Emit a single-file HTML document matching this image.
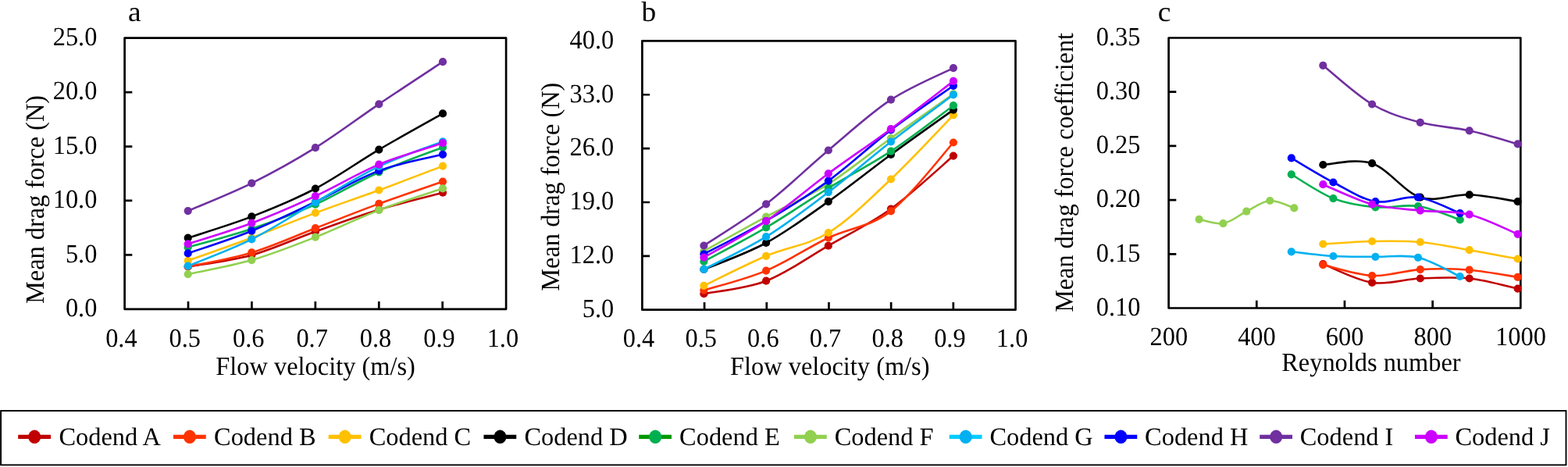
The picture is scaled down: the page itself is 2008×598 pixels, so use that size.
<!DOCTYPE html>
<html lang="en">
<head>
<meta charset="utf-8">
<title>Mean drag force and drag force coefficient of codends</title>
<style>
html,body{margin:0;padding:0;background:#fff;}
body{width:2008px;height:598px;overflow:hidden;}
svg{display:block;}
svg text{font-family:"Liberation Serif", "DejaVu Serif", serif;fill:#000;text-rendering:geometricPrecision;}
</style>
</head>
<body>
<svg width="2008" height="598" viewBox="0 0 2008 598" role="img" aria-label="Mean drag force versus flow velocity (a, b) and mean drag force coefficient versus Reynolds number (c) for codends A to J">
<rect x="0" y="0" width="2008" height="598" fill="#fff"/>
<g id="panel-a">
<clipPath id="clip-a"><rect x="139.60" y="28.70" width="509.95" height="387.10"/></clipPath>
<rect x="159.60" y="48.70" width="488.50" height="347.10" fill="#fff" stroke="#000" stroke-width="2.70" stroke-linejoin="round"/>
<path d="M241.02 395.80V386.10M322.43 395.80V386.10M403.85 395.80V386.10M485.27 395.80V386.10M566.68 395.80V386.10M159.60 118.12H169.30M159.60 187.54H169.30M159.60 256.96H169.30M159.60 326.38H169.30" stroke="#000" stroke-width="2.70" fill="none"/>
<g clip-path="url(#clip-a)">
<g fill="#C00000" stroke="none"><path d="M240.70 341.50 C254.30 339.03 295.10 334.20 322.30 326.70 C349.50 319.20 376.73 306.20 403.90 296.50 C431.07 286.80 458.12 276.80 485.30 268.50 C512.48 260.20 553.38 250.33 567.00 246.70" fill="none" stroke="#C00000" stroke-width="2.60" stroke-linecap="round" stroke-linejoin="round"/>
<circle cx="240.70" cy="341.50" r="5.10"/>
<circle cx="322.30" cy="326.70" r="5.10"/>
<circle cx="403.90" cy="296.50" r="5.10"/>
<circle cx="485.30" cy="268.50" r="5.10"/>
<circle cx="567.00" cy="246.70" r="5.10"/>
</g>
<g fill="#FF3300" stroke="none"><path d="M240.70 341.50 C254.30 338.48 295.10 331.62 322.30 323.40 C349.50 315.18 376.73 302.62 403.90 292.20 C431.07 281.78 458.12 270.83 485.30 260.90 C512.48 250.97 553.38 237.32 567.00 232.60" fill="none" stroke="#FF3300" stroke-width="2.60" stroke-linecap="round" stroke-linejoin="round"/>
<circle cx="240.70" cy="341.50" r="5.10"/>
<circle cx="322.30" cy="323.40" r="5.10"/>
<circle cx="403.90" cy="292.20" r="5.10"/>
<circle cx="485.30" cy="260.90" r="5.10"/>
<circle cx="567.00" cy="232.60" r="5.10"/>
</g>
<g fill="#FFC000" stroke="none"><path d="M240.70 333.80 C254.30 328.92 295.10 314.70 322.30 304.50 C349.50 294.30 376.73 282.77 403.90 272.60 C431.07 262.43 458.12 253.50 485.30 243.50 C512.48 233.50 553.38 217.75 567.00 212.60" fill="none" stroke="#FFC000" stroke-width="2.60" stroke-linecap="round" stroke-linejoin="round"/>
<circle cx="240.70" cy="333.80" r="5.10"/>
<circle cx="322.30" cy="304.50" r="5.10"/>
<circle cx="403.90" cy="272.60" r="5.10"/>
<circle cx="485.30" cy="243.50" r="5.10"/>
<circle cx="567.00" cy="212.60" r="5.10"/>
</g>
<g fill="#000000" stroke="none"><path d="M240.70 304.70 C254.30 300.15 295.10 287.93 322.30 277.40 C349.50 266.87 376.73 255.80 403.90 241.50 C431.07 227.20 458.12 207.62 485.30 191.60 C512.48 175.58 553.38 153.10 567.00 145.40" fill="none" stroke="#000000" stroke-width="2.60" stroke-linecap="round" stroke-linejoin="round"/>
<circle cx="240.70" cy="304.70" r="5.10"/>
<circle cx="322.30" cy="277.40" r="5.10"/>
<circle cx="403.90" cy="241.50" r="5.10"/>
<circle cx="485.30" cy="191.60" r="5.10"/>
<circle cx="567.00" cy="145.40" r="5.10"/>
</g>
<g fill="#92D050" stroke="none"><path d="M240.70 351.10 C254.30 348.10 295.10 341.00 322.30 333.10 C349.50 325.20 376.73 314.37 403.90 303.70 C431.07 293.03 458.12 279.50 485.30 269.10 C512.48 258.70 553.38 245.93 567.00 241.30" fill="none" stroke="#92D050" stroke-width="2.60" stroke-linecap="round" stroke-linejoin="round"/>
<circle cx="240.70" cy="351.10" r="5.10"/>
<circle cx="322.30" cy="333.10" r="5.10"/>
<circle cx="403.90" cy="303.70" r="5.10"/>
<circle cx="485.30" cy="269.10" r="5.10"/>
<circle cx="567.00" cy="241.30" r="5.10"/>
</g>
<g fill="#00B050" stroke="none"><path d="M240.70 316.70 C254.30 312.75 295.10 302.17 322.30 293.00 C349.50 283.83 376.73 273.78 403.90 261.70 C431.07 249.62 458.12 232.67 485.30 220.50 C512.48 208.33 553.38 194.00 567.00 188.70" fill="none" stroke="#00B050" stroke-width="2.60" stroke-linecap="round" stroke-linejoin="round"/>
<circle cx="240.70" cy="316.70" r="5.10"/>
<circle cx="322.30" cy="293.00" r="5.10"/>
<circle cx="403.90" cy="261.70" r="5.10"/>
<circle cx="485.30" cy="220.50" r="5.10"/>
<circle cx="567.00" cy="188.70" r="5.10"/>
</g>
<g fill="#0000FF" stroke="none"><path d="M240.70 324.40 C254.30 319.62 295.10 306.68 322.30 295.70 C349.50 284.72 376.73 271.35 403.90 258.50 C431.07 245.65 458.12 228.72 485.30 218.60 C512.48 208.48 553.38 201.27 567.00 197.80" fill="none" stroke="#0000FF" stroke-width="2.60" stroke-linecap="round" stroke-linejoin="round"/>
<circle cx="240.70" cy="324.40" r="5.10"/>
<circle cx="322.30" cy="295.70" r="5.10"/>
<circle cx="403.90" cy="258.50" r="5.10"/>
<circle cx="485.30" cy="218.60" r="5.10"/>
<circle cx="567.00" cy="197.80" r="5.10"/>
</g>
<g fill="#00B0F0" stroke="none"><path d="M240.70 340.60 C254.30 334.90 295.10 319.98 322.30 306.40 C349.50 292.82 376.73 274.63 403.90 259.10 C431.07 243.57 458.12 226.17 485.30 213.20 C512.48 200.23 553.38 186.62 567.00 181.30" fill="none" stroke="#00B0F0" stroke-width="2.60" stroke-linecap="round" stroke-linejoin="round"/>
<circle cx="240.70" cy="340.60" r="5.10"/>
<circle cx="322.30" cy="306.40" r="5.10"/>
<circle cx="403.90" cy="259.10" r="5.10"/>
<circle cx="485.30" cy="213.20" r="5.10"/>
<circle cx="567.00" cy="181.30" r="5.10"/>
</g>
<g fill="#7030A0" stroke="none"><path d="M240.70 270.10 C254.30 264.18 295.10 248.08 322.30 234.60 C349.50 221.12 376.73 206.08 403.90 189.20 C431.07 172.32 458.12 151.63 485.30 133.30 C512.48 114.97 553.38 88.22 567.00 79.20" fill="none" stroke="#7030A0" stroke-width="2.60" stroke-linecap="round" stroke-linejoin="round"/>
<circle cx="240.70" cy="270.10" r="5.10"/>
<circle cx="322.30" cy="234.60" r="5.10"/>
<circle cx="403.90" cy="189.20" r="5.10"/>
<circle cx="485.30" cy="133.30" r="5.10"/>
<circle cx="567.00" cy="79.20" r="5.10"/>
</g>
<g fill="#CC00FF" stroke="none"><path d="M240.70 312.40 C254.30 307.95 295.10 295.92 322.30 285.70 C349.50 275.48 376.73 263.62 403.90 251.10 C431.07 238.58 458.12 221.92 485.30 210.60 C512.48 199.28 553.38 187.77 567.00 183.20" fill="none" stroke="#CC00FF" stroke-width="2.60" stroke-linecap="round" stroke-linejoin="round"/>
<circle cx="240.70" cy="312.40" r="5.10"/>
<circle cx="322.30" cy="285.70" r="5.10"/>
<circle cx="403.90" cy="251.10" r="5.10"/>
<circle cx="485.30" cy="210.60" r="5.10"/>
<circle cx="567.00" cy="183.20" r="5.10"/>
</g>
</g>
<text transform="translate(155.40 443.80) scale(1 1.0400)" font-size="32.40" text-anchor="middle">0.4</text>
<text transform="translate(236.82 443.80) scale(1 1.0400)" font-size="32.40" text-anchor="middle">0.5</text>
<text transform="translate(318.23 443.80) scale(1 1.0400)" font-size="32.40" text-anchor="middle">0.6</text>
<text transform="translate(399.65 443.80) scale(1 1.0400)" font-size="32.40" text-anchor="middle">0.7</text>
<text transform="translate(481.07 443.80) scale(1 1.0400)" font-size="32.40" text-anchor="middle">0.8</text>
<text transform="translate(562.48 443.80) scale(1 1.0400)" font-size="32.40" text-anchor="middle">0.9</text>
<text transform="translate(643.90 443.80) scale(1 1.0400)" font-size="32.40" text-anchor="middle">1.0</text>
<text transform="translate(124.40 58.00) scale(1 1.0400)" font-size="32.40" text-anchor="end">25.0</text>
<text transform="translate(124.40 127.42) scale(1 1.0400)" font-size="32.40" text-anchor="end">20.0</text>
<text transform="translate(124.40 196.84) scale(1 1.0400)" font-size="32.40" text-anchor="end">15.0</text>
<text transform="translate(124.40 266.26) scale(1 1.0400)" font-size="32.40" text-anchor="end">10.0</text>
<text transform="translate(124.40 335.68) scale(1 1.0400)" font-size="32.40" text-anchor="end">5.0</text>
<text transform="translate(124.40 405.10) scale(1 1.0400)" font-size="32.40" text-anchor="end">0.0</text>
<text transform="translate(164.00 26.60) scale(1 0.9600)" font-size="37.50" text-anchor="start">a</text>
<text transform="translate(276.30 480.30) scale(1 1.0400)" font-size="32.40" text-anchor="start">Flow velocity (m/s)</text>
<text transform="translate(56.40 389.00) rotate(-90) scale(1 1.0400)" font-size="32.40" text-anchor="start">Mean drag force (N)</text>
</g>
<g id="panel-b">
<clipPath id="clip-b"><rect x="802.40" y="32.40" width="499.55" height="384.30"/></clipPath>
<rect x="822.40" y="52.40" width="478.10" height="344.30" fill="#fff" stroke="#000" stroke-width="2.70" stroke-linejoin="round"/>
<path d="M902.08 396.70V387.00M981.77 396.70V387.00M1061.45 396.70V387.00M1141.13 396.70V387.00M1220.82 396.70V387.00M822.40 121.26H832.10M822.40 190.12H832.10M822.40 258.98H832.10M822.40 327.84H832.10" stroke="#000" stroke-width="2.70" fill="none"/>
<g clip-path="url(#clip-b)">
<g fill="#C00000" stroke="none"><path d="M901.40 376.20 C914.68 373.45 954.53 369.95 981.10 359.70 C1007.67 349.45 1034.17 330.07 1060.80 314.70 C1087.43 299.33 1114.22 286.68 1140.90 267.50 C1167.58 248.32 1207.57 210.92 1220.90 199.60" fill="none" stroke="#C00000" stroke-width="2.60" stroke-linecap="round" stroke-linejoin="round"/>
<circle cx="901.40" cy="376.20" r="5.10"/>
<circle cx="981.10" cy="359.70" r="5.10"/>
<circle cx="1060.80" cy="314.70" r="5.10"/>
<circle cx="1140.90" cy="267.50" r="5.10"/>
<circle cx="1220.90" cy="199.60" r="5.10"/>
</g>
<g fill="#FF3300" stroke="none"><path d="M901.40 371.70 C914.68 367.52 954.53 357.80 981.10 346.60 C1007.67 335.40 1034.17 317.20 1060.80 304.50 C1087.43 291.80 1114.22 290.73 1140.90 270.40 C1167.58 250.07 1207.57 197.15 1220.90 182.50" fill="none" stroke="#FF3300" stroke-width="2.60" stroke-linecap="round" stroke-linejoin="round"/>
<circle cx="901.40" cy="371.70" r="5.10"/>
<circle cx="981.10" cy="346.60" r="5.10"/>
<circle cx="1060.80" cy="304.50" r="5.10"/>
<circle cx="1140.90" cy="270.40" r="5.10"/>
<circle cx="1220.90" cy="182.50" r="5.10"/>
</g>
<g fill="#FFC000" stroke="none"><path d="M901.40 365.90 C914.68 359.55 954.53 339.12 981.10 327.80 C1007.67 316.48 1034.17 314.38 1060.80 298.00 C1087.43 281.62 1114.22 254.62 1140.90 229.50 C1167.58 204.38 1207.57 161.00 1220.90 147.30" fill="none" stroke="#FFC000" stroke-width="2.60" stroke-linecap="round" stroke-linejoin="round"/>
<circle cx="901.40" cy="365.90" r="5.10"/>
<circle cx="981.10" cy="327.80" r="5.10"/>
<circle cx="1060.80" cy="298.00" r="5.10"/>
<circle cx="1140.90" cy="229.50" r="5.10"/>
<circle cx="1220.90" cy="147.30" r="5.10"/>
</g>
<g fill="#000000" stroke="none"><path d="M901.40 345.00 C914.68 339.33 954.53 325.48 981.10 311.00 C1007.67 296.52 1034.17 276.93 1060.80 258.10 C1087.43 239.27 1114.22 217.58 1140.90 198.00 C1167.58 178.42 1207.57 150.17 1220.90 140.60" fill="none" stroke="#000000" stroke-width="2.60" stroke-linecap="round" stroke-linejoin="round"/>
<circle cx="901.40" cy="345.00" r="5.10"/>
<circle cx="981.10" cy="311.00" r="5.10"/>
<circle cx="1060.80" cy="258.10" r="5.10"/>
<circle cx="1140.90" cy="198.00" r="5.10"/>
<circle cx="1220.90" cy="140.60" r="5.10"/>
</g>
<g fill="#92D050" stroke="none"><path d="M901.40 321.50 C914.68 314.18 954.53 291.92 981.10 277.60 C1007.67 263.28 1034.17 252.37 1060.80 235.60 C1087.43 218.83 1114.22 196.20 1140.90 177.00 C1167.58 157.80 1207.57 129.83 1220.90 120.40" fill="none" stroke="#92D050" stroke-width="2.60" stroke-linecap="round" stroke-linejoin="round"/>
<circle cx="901.40" cy="321.50" r="5.10"/>
<circle cx="981.10" cy="277.60" r="5.10"/>
<circle cx="1060.80" cy="235.60" r="5.10"/>
<circle cx="1140.90" cy="177.00" r="5.10"/>
<circle cx="1220.90" cy="120.40" r="5.10"/>
</g>
<g fill="#00B050" stroke="none"><path d="M901.40 334.80 C914.68 327.57 954.53 307.03 981.10 291.40 C1007.67 275.77 1034.17 257.28 1060.80 241.00 C1087.43 224.72 1114.22 211.33 1140.90 193.70 C1167.58 176.07 1207.57 144.95 1220.90 135.20" fill="none" stroke="#00B050" stroke-width="2.60" stroke-linecap="round" stroke-linejoin="round"/>
<circle cx="901.40" cy="334.80" r="5.10"/>
<circle cx="981.10" cy="291.40" r="5.10"/>
<circle cx="1060.80" cy="241.00" r="5.10"/>
<circle cx="1140.90" cy="193.70" r="5.10"/>
<circle cx="1220.90" cy="135.20" r="5.10"/>
</g>
<g fill="#0000FF" stroke="none"><path d="M901.40 325.30 C914.68 318.25 954.53 298.62 981.10 283.00 C1007.67 267.38 1034.17 251.03 1060.80 231.60 C1087.43 212.17 1114.22 186.70 1140.90 166.40 C1167.58 146.10 1207.57 119.23 1220.90 109.80" fill="none" stroke="#0000FF" stroke-width="2.60" stroke-linecap="round" stroke-linejoin="round"/>
<circle cx="901.40" cy="325.30" r="5.10"/>
<circle cx="981.10" cy="283.00" r="5.10"/>
<circle cx="1060.80" cy="231.60" r="5.10"/>
<circle cx="1140.90" cy="166.40" r="5.10"/>
<circle cx="1220.90" cy="109.80" r="5.10"/>
</g>
<g fill="#00B0F0" stroke="none"><path d="M901.40 344.90 C914.68 337.95 954.53 319.65 981.10 303.20 C1007.67 286.75 1034.17 266.48 1060.80 246.20 C1087.43 225.92 1114.22 202.32 1140.90 181.50 C1167.58 160.68 1207.57 131.33 1220.90 121.30" fill="none" stroke="#00B0F0" stroke-width="2.60" stroke-linecap="round" stroke-linejoin="round"/>
<circle cx="901.40" cy="344.90" r="5.10"/>
<circle cx="981.10" cy="303.20" r="5.10"/>
<circle cx="1060.80" cy="246.20" r="5.10"/>
<circle cx="1140.90" cy="181.50" r="5.10"/>
<circle cx="1220.90" cy="121.30" r="5.10"/>
</g>
<g fill="#7030A0" stroke="none"><path d="M901.40 314.50 C914.68 305.63 954.53 281.63 981.10 261.30 C1007.67 240.97 1034.17 214.77 1060.80 192.50 C1087.43 170.23 1114.22 145.27 1140.90 127.70 C1167.58 110.13 1207.57 93.87 1220.90 87.10" fill="none" stroke="#7030A0" stroke-width="2.60" stroke-linecap="round" stroke-linejoin="round"/>
<circle cx="901.40" cy="314.50" r="5.10"/>
<circle cx="981.10" cy="261.30" r="5.10"/>
<circle cx="1060.80" cy="192.50" r="5.10"/>
<circle cx="1140.90" cy="127.70" r="5.10"/>
<circle cx="1220.90" cy="87.10" r="5.10"/>
</g>
<g fill="#CC00FF" stroke="none"><path d="M901.40 329.60 C914.68 321.87 954.53 301.08 981.10 283.20 C1007.67 265.32 1034.17 241.97 1060.80 222.30 C1087.43 202.63 1114.22 184.93 1140.90 165.20 C1167.58 145.47 1207.57 114.12 1220.90 103.90" fill="none" stroke="#CC00FF" stroke-width="2.60" stroke-linecap="round" stroke-linejoin="round"/>
<circle cx="901.40" cy="329.60" r="5.10"/>
<circle cx="981.10" cy="283.20" r="5.10"/>
<circle cx="1060.80" cy="222.30" r="5.10"/>
<circle cx="1140.90" cy="165.20" r="5.10"/>
<circle cx="1220.90" cy="103.90" r="5.10"/>
</g>
</g>
<text transform="translate(818.00 444.10) scale(1 1.0400)" font-size="32.40" text-anchor="middle">0.4</text>
<text transform="translate(897.68 444.10) scale(1 1.0400)" font-size="32.40" text-anchor="middle">0.5</text>
<text transform="translate(977.37 444.10) scale(1 1.0400)" font-size="32.40" text-anchor="middle">0.6</text>
<text transform="translate(1057.05 444.10) scale(1 1.0400)" font-size="32.40" text-anchor="middle">0.7</text>
<text transform="translate(1136.73 444.10) scale(1 1.0400)" font-size="32.40" text-anchor="middle">0.8</text>
<text transform="translate(1216.42 444.10) scale(1 1.0400)" font-size="32.40" text-anchor="middle">0.9</text>
<text transform="translate(1296.10 444.10) scale(1 1.0400)" font-size="32.40" text-anchor="middle">1.0</text>
<text transform="translate(786.30 61.70) scale(1 1.0400)" font-size="32.40" text-anchor="end">40.0</text>
<text transform="translate(786.30 130.56) scale(1 1.0400)" font-size="32.40" text-anchor="end">33.0</text>
<text transform="translate(786.30 199.42) scale(1 1.0400)" font-size="32.40" text-anchor="end">26.0</text>
<text transform="translate(786.30 268.28) scale(1 1.0400)" font-size="32.40" text-anchor="end">19.0</text>
<text transform="translate(786.30 337.14) scale(1 1.0400)" font-size="32.40" text-anchor="end">12.0</text>
<text transform="translate(786.30 406.00) scale(1 1.0400)" font-size="32.40" text-anchor="end">5.0</text>
<text transform="translate(821.50 26.60) scale(1 0.9600)" font-size="37.50" text-anchor="start">b</text>
<text transform="translate(935.00 479.70) scale(1 1.0400)" font-size="32.40" text-anchor="start">Flow velocity (m/s)</text>
<text transform="translate(716.00 372.70) rotate(-90) scale(1 1.0400)" font-size="32.40" text-anchor="start">Mean drag force (N)</text>
</g>
<g id="panel-c">
<clipPath id="clip-c"><rect x="1476.60" y="28.50" width="472.15" height="386.00"/></clipPath>
<rect x="1496.60" y="48.50" width="450.70" height="346.00" fill="#fff" stroke="#000" stroke-width="2.70" stroke-linejoin="round"/>
<path d="M1609.27 394.50V384.80M1721.95 394.50V384.80M1834.62 394.50V384.80M1496.60 117.70H1506.30M1496.60 186.90H1506.30M1496.60 256.10H1506.30M1496.60 325.30H1506.30" stroke="#000" stroke-width="2.70" fill="none"/>
<g clip-path="url(#clip-c)">
<g fill="#C00000" stroke="none"><path d="M1694.30 338.10 C1704.77 342.07 1736.35 358.83 1757.10 361.90 C1777.85 364.97 1798.03 357.40 1818.80 356.50 C1839.57 355.60 1860.90 354.32 1881.70 356.50 C1902.50 358.68 1933.28 367.42 1943.60 369.60" fill="none" stroke="#C00000" stroke-width="2.60" stroke-linecap="round" stroke-linejoin="round"/>
<circle cx="1694.30" cy="338.10" r="5.10"/>
<circle cx="1757.10" cy="361.90" r="5.10"/>
<circle cx="1818.80" cy="356.50" r="5.10"/>
<circle cx="1881.70" cy="356.50" r="5.10"/>
<circle cx="1943.60" cy="369.60" r="5.10"/>
</g>
<g fill="#FF3300" stroke="none"><path d="M1694.30 339.10 C1704.77 341.42 1736.35 352.00 1757.10 353.00 C1777.85 354.00 1798.03 346.32 1818.80 345.10 C1839.57 343.88 1860.90 344.07 1881.70 345.70 C1902.50 347.33 1933.28 353.37 1943.60 354.90" fill="none" stroke="#FF3300" stroke-width="2.60" stroke-linecap="round" stroke-linejoin="round"/>
<circle cx="1694.30" cy="339.10" r="5.10"/>
<circle cx="1757.10" cy="353.00" r="5.10"/>
<circle cx="1818.80" cy="345.10" r="5.10"/>
<circle cx="1881.70" cy="345.70" r="5.10"/>
<circle cx="1943.60" cy="354.90" r="5.10"/>
</g>
<g fill="#FFC000" stroke="none"><path d="M1694.30 312.50 C1704.77 311.92 1736.35 309.42 1757.10 309.00 C1777.85 308.58 1798.03 308.13 1818.80 310.00 C1839.57 311.87 1860.90 316.62 1881.70 320.20 C1902.50 323.78 1933.28 329.62 1943.60 331.50" fill="none" stroke="#FFC000" stroke-width="2.60" stroke-linecap="round" stroke-linejoin="round"/>
<circle cx="1694.30" cy="312.50" r="5.10"/>
<circle cx="1757.10" cy="309.00" r="5.10"/>
<circle cx="1818.80" cy="310.00" r="5.10"/>
<circle cx="1881.70" cy="320.20" r="5.10"/>
<circle cx="1943.60" cy="331.50" r="5.10"/>
</g>
<g fill="#000000" stroke="none"><path d="M1694.30 211.00 C1704.77 210.70 1736.35 202.25 1757.10 209.20 C1777.85 216.15 1798.03 246.02 1818.80 252.70 C1839.57 259.38 1860.90 248.40 1881.70 249.30 C1902.50 250.20 1933.28 256.63 1943.60 258.10" fill="none" stroke="#000000" stroke-width="2.60" stroke-linecap="round" stroke-linejoin="round"/>
<circle cx="1694.30" cy="211.00" r="5.10"/>
<circle cx="1757.10" cy="209.20" r="5.10"/>
<circle cx="1818.80" cy="252.70" r="5.10"/>
<circle cx="1881.70" cy="249.30" r="5.10"/>
<circle cx="1943.60" cy="258.10" r="5.10"/>
</g>
<g fill="#92D050" stroke="none"><path d="M1535.60 280.80 C1540.73 281.70 1556.28 287.88 1566.40 286.20 C1576.52 284.52 1586.32 275.57 1596.30 270.70 C1606.28 265.83 1616.13 257.72 1626.30 257.00 C1636.47 256.28 1652.13 264.83 1657.30 266.40" fill="none" stroke="#92D050" stroke-width="2.60" stroke-linecap="round" stroke-linejoin="round"/>
<circle cx="1535.60" cy="280.80" r="5.10"/>
<circle cx="1566.40" cy="286.20" r="5.10"/>
<circle cx="1596.30" cy="270.70" r="5.10"/>
<circle cx="1626.30" cy="257.00" r="5.10"/>
<circle cx="1657.30" cy="266.40" r="5.10"/>
</g>
<g fill="#00B050" stroke="none"><path d="M1653.80 223.30 C1662.73 228.43 1689.47 247.10 1707.40 254.10 C1725.33 261.10 1743.30 263.65 1761.40 265.30 C1779.50 266.95 1797.95 261.32 1816.00 264.00 C1834.05 266.68 1860.75 278.50 1869.70 281.40" fill="none" stroke="#00B050" stroke-width="2.60" stroke-linecap="round" stroke-linejoin="round"/>
<circle cx="1653.80" cy="223.30" r="5.10"/>
<circle cx="1707.40" cy="254.10" r="5.10"/>
<circle cx="1761.40" cy="265.30" r="5.10"/>
<circle cx="1816.00" cy="264.00" r="5.10"/>
<circle cx="1869.70" cy="281.40" r="5.10"/>
</g>
<g fill="#0000FF" stroke="none"><path d="M1653.80 202.40 C1662.73 207.58 1689.47 224.22 1707.40 233.50 C1725.33 242.78 1743.30 254.90 1761.40 258.10 C1779.50 261.30 1797.95 250.20 1816.00 252.70 C1834.05 255.20 1860.75 269.70 1869.70 273.10" fill="none" stroke="#0000FF" stroke-width="2.60" stroke-linecap="round" stroke-linejoin="round"/>
<circle cx="1653.80" cy="202.40" r="5.10"/>
<circle cx="1707.40" cy="233.50" r="5.10"/>
<circle cx="1761.40" cy="258.10" r="5.10"/>
<circle cx="1816.00" cy="252.70" r="5.10"/>
<circle cx="1869.70" cy="273.10" r="5.10"/>
</g>
<g fill="#00B0F0" stroke="none"><path d="M1653.80 322.30 C1662.73 323.25 1689.47 326.92 1707.40 328.00 C1725.33 329.08 1743.30 328.50 1761.40 328.80 C1779.50 329.10 1797.95 325.60 1816.00 329.80 C1834.05 334.00 1860.75 349.97 1869.70 354.00" fill="none" stroke="#00B0F0" stroke-width="2.60" stroke-linecap="round" stroke-linejoin="round"/>
<circle cx="1653.80" cy="322.30" r="5.10"/>
<circle cx="1707.40" cy="328.00" r="5.10"/>
<circle cx="1761.40" cy="328.80" r="5.10"/>
<circle cx="1816.00" cy="329.80" r="5.10"/>
<circle cx="1869.70" cy="354.00" r="5.10"/>
</g>
<g fill="#7030A0" stroke="none"><path d="M1694.30 83.80 C1704.77 92.08 1736.35 121.33 1757.10 133.50 C1777.85 145.67 1798.03 151.17 1818.80 156.80 C1839.57 162.43 1860.90 162.70 1881.70 167.30 C1902.50 171.90 1933.28 181.55 1943.60 184.40" fill="none" stroke="#7030A0" stroke-width="2.60" stroke-linecap="round" stroke-linejoin="round"/>
<circle cx="1694.30" cy="83.80" r="5.10"/>
<circle cx="1757.10" cy="133.50" r="5.10"/>
<circle cx="1818.80" cy="156.80" r="5.10"/>
<circle cx="1881.70" cy="167.30" r="5.10"/>
<circle cx="1943.60" cy="184.40" r="5.10"/>
</g>
<g fill="#CC00FF" stroke="none"><path d="M1694.30 236.20 C1704.77 240.43 1736.35 256.03 1757.10 261.60 C1777.85 267.17 1798.03 267.42 1818.80 269.60 C1839.57 271.78 1860.90 269.67 1881.70 274.70 C1902.50 279.73 1933.28 295.62 1943.60 299.80" fill="none" stroke="#CC00FF" stroke-width="2.60" stroke-linecap="round" stroke-linejoin="round"/>
<circle cx="1694.30" cy="236.20" r="5.10"/>
<circle cx="1757.10" cy="261.60" r="5.10"/>
<circle cx="1818.80" cy="269.60" r="5.10"/>
<circle cx="1881.70" cy="274.70" r="5.10"/>
<circle cx="1943.60" cy="299.80" r="5.10"/>
</g>
</g>
<text transform="translate(1496.80 442.00) scale(1 1.0400)" font-size="32.40" text-anchor="middle">200</text>
<text transform="translate(1609.47 442.00) scale(1 1.0400)" font-size="32.40" text-anchor="middle">400</text>
<text transform="translate(1722.15 442.00) scale(1 1.0400)" font-size="32.40" text-anchor="middle">600</text>
<text transform="translate(1834.83 442.00) scale(1 1.0400)" font-size="32.40" text-anchor="middle">800</text>
<text transform="translate(1947.50 442.00) scale(1 1.0400)" font-size="32.40" text-anchor="middle">1000</text>
<text transform="translate(1460.50 57.80) scale(1 1.0400)" font-size="32.40" text-anchor="end">0.35</text>
<text transform="translate(1460.50 127.00) scale(1 1.0400)" font-size="32.40" text-anchor="end">0.30</text>
<text transform="translate(1460.50 196.20) scale(1 1.0400)" font-size="32.40" text-anchor="end">0.25</text>
<text transform="translate(1460.50 265.40) scale(1 1.0400)" font-size="32.40" text-anchor="end">0.20</text>
<text transform="translate(1460.50 334.60) scale(1 1.0400)" font-size="32.40" text-anchor="end">0.15</text>
<text transform="translate(1460.50 403.80) scale(1 1.0400)" font-size="32.40" text-anchor="end">0.10</text>
<text transform="translate(1482.70 26.60) scale(1 0.9600)" font-size="37.50" text-anchor="start">c</text>
<text transform="translate(1641.20 475.10) scale(1 1.0400)" font-size="32.40" text-anchor="start">Reynolds number</text>
<text transform="translate(1373.60 399.80) rotate(-90) scale(1 1.0400)" font-size="32.20" text-anchor="start">Mean drag force coefficient</text>
</g>
<g id="legend">
<rect x="1.1" y="526" width="2004.4" height="69.4" fill="#fff" stroke="#000" stroke-width="1.9"/>
<line x1="23.20" y1="559.3" x2="65.00" y2="559.3" stroke="#C00000" stroke-width="5.3"/>
<ellipse cx="44.20" cy="559.3" rx="8.0" ry="8.7" fill="#C00000"/>
<text transform="translate(75.40 569.90)" font-size="32.40" text-anchor="start">Codend A</text>
<line x1="221.95" y1="559.3" x2="263.75" y2="559.3" stroke="#FF3300" stroke-width="5.3"/>
<ellipse cx="242.95" cy="559.3" rx="8.0" ry="8.7" fill="#FF3300"/>
<text transform="translate(274.07 569.90)" font-size="32.40" text-anchor="start">Codend B</text>
<line x1="420.70" y1="559.3" x2="462.50" y2="559.3" stroke="#FFC000" stroke-width="5.3"/>
<ellipse cx="441.70" cy="559.3" rx="8.0" ry="8.7" fill="#FFC000"/>
<text transform="translate(472.74 569.90)" font-size="32.40" text-anchor="start">Codend C</text>
<line x1="619.45" y1="559.3" x2="661.25" y2="559.3" stroke="#000000" stroke-width="5.3"/>
<ellipse cx="640.45" cy="559.3" rx="8.0" ry="8.7" fill="#000000"/>
<text transform="translate(671.41 569.90)" font-size="32.40" text-anchor="start">Codend D</text>
<line x1="818.20" y1="559.3" x2="860.00" y2="559.3" stroke="#009900" stroke-width="5.3"/>
<ellipse cx="839.20" cy="559.3" rx="8.0" ry="8.7" fill="#00B050"/>
<text transform="translate(870.08 569.90)" font-size="32.40" text-anchor="start">Codend E</text>
<line x1="1016.95" y1="559.3" x2="1058.75" y2="559.3" stroke="#92D050" stroke-width="5.3"/>
<ellipse cx="1037.95" cy="559.3" rx="8.0" ry="8.7" fill="#92D050"/>
<text transform="translate(1068.75 569.90)" font-size="32.40" text-anchor="start">Codend F</text>
<line x1="1215.70" y1="559.3" x2="1257.50" y2="559.3" stroke="#00CCFF" stroke-width="5.3"/>
<ellipse cx="1236.70" cy="559.3" rx="8.0" ry="8.7" fill="#00B0F0"/>
<text transform="translate(1267.42 569.90)" font-size="32.40" text-anchor="start">Codend G</text>
<line x1="1414.45" y1="559.3" x2="1456.25" y2="559.3" stroke="#0000FF" stroke-width="5.3"/>
<ellipse cx="1435.45" cy="559.3" rx="8.0" ry="8.7" fill="#0000FF"/>
<text transform="translate(1466.09 569.90)" font-size="32.40" text-anchor="start">Codend H</text>
<line x1="1613.20" y1="559.3" x2="1655.00" y2="559.3" stroke="#7030A0" stroke-width="5.3"/>
<ellipse cx="1634.20" cy="559.3" rx="8.0" ry="8.7" fill="#7030A0"/>
<text transform="translate(1664.76 569.90)" font-size="32.40" text-anchor="start">Codend I</text>
<line x1="1811.95" y1="559.3" x2="1853.75" y2="559.3" stroke="#CC00FF" stroke-width="5.3"/>
<ellipse cx="1832.95" cy="559.3" rx="8.0" ry="8.7" fill="#CC00FF"/>
<text transform="translate(1863.43 569.90)" font-size="32.40" text-anchor="start">Codend J</text>
</g>
</svg>
</body>
</html>
